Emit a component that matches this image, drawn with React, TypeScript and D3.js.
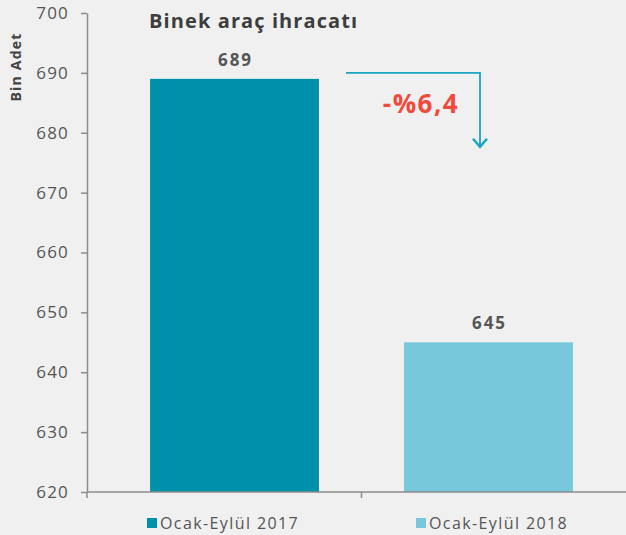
import * as d3 from 'd3'
import React, { useEffect, useRef } from 'react'

const categories = ['Ocak-Eylül 2017', 'Ocak-Eylül 2018']
const values = [689, 645]
const colors = ['#0091aa', '#76c8da']
const yTicks = [620, 630, 640, 650, 660, 670, 680, 690, 700]
const title = 'Binek araç ihracatı'
const changeLabel = '-%6,4'

const W = 626
const H = 535
const FONT = "'Open Sans', 'Noto Sans', sans-serif"

export default function App() {
  const svgRef = useRef<SVGSVGElement | null>(null)

  useEffect(() => {
    const svg = d3.select(svgRef.current)
    svg.selectAll('*').remove()

    svg.append('rect').attr('width', W).attr('height', H).attr('fill', '#f0f0f0')

    const y = d3.scaleLinear().domain([620, 700]).range([492, 13])
    const x = d3.scaleBand<string>().domain(categories).range([107.5, 615.5]).paddingInner(0.335).paddingOuter(0.1675)

    // y axis
    const yAxis = svg.append('g').attr('transform', 'translate(87,0)')
    yAxis.call(d3.axisLeft(y).tickValues(yTicks).tickSize(6).tickSizeOuter(0).tickPadding(12).tickFormat(d3.format('d')))
    yAxis.select('.domain').attr('stroke', '#8c8c8c').attr('stroke-width', 1.5)
    yAxis.selectAll('.tick line').attr('stroke', '#8c8c8c').attr('stroke-width', 1.5)
    yAxis.selectAll('.tick text').attr('fill', '#555').attr('font-size', 17).attr('font-family', FONT)
      .attr('letter-spacing', 1.2)

    // bars
    svg.selectAll('rect.bar')
      .data(values)
      .enter()
      .append('rect')
      .attr('class', 'bar')
      .attr('x', (_, i) => x(categories[i])!)
      .attr('width', x.bandwidth())
      .attr('y', (d) => y(d))
      .attr('height', (d) => y(620) - y(d))
      .attr('fill', (_, i) => colors[i])

    // x axis
    svg.append('line').attr('x1', 87).attr('x2', W).attr('y1', y(620)).attr('y2', y(620))
      .attr('stroke', '#8c8c8c').attr('stroke-width', 1.5)
    const step = x.step()
    const boundaries = [87, x(categories[1])! - (step - x.bandwidth()) / 2]
    svg.selectAll('line.xt')
      .data(boundaries)
      .enter()
      .append('line')
      .attr('x1', (d) => d).attr('x2', (d) => d)
      .attr('y1', y(620)).attr('y2', y(620) + 6)
      .attr('stroke', '#8c8c8c').attr('stroke-width', 1.5)

    // value labels
    svg.selectAll('text.val')
      .data(values)
      .enter()
      .append('text')
      .attr('x', (_, i) => x(categories[i])! + x.bandwidth() / 2 + 1)
      .attr('y', (d) => y(d) - 13)
      .attr('text-anchor', 'middle')
      .attr('font-family', FONT)
      .attr('font-weight', 'bold')
      .attr('font-size', 17)
      .attr('letter-spacing', 2)
      .attr('fill', '#555')
      .text((d) => d)

    // y label
    svg.append('text')
      .attr('transform', 'translate(21,67) rotate(-90)')
      .attr('text-anchor', 'middle')
      .attr('font-family', FONT)
      .attr('font-weight', 'bold')
      .attr('font-size', 14)
      .attr('letter-spacing', 1.2)
      .attr('fill', '#444')
      .text('Bin Adet')

    // title
    svg.append('text')
      .attr('x', 149).attr('y', 28)
      .attr('font-family', FONT)
      .attr('font-weight', 'bold')
      .attr('font-size', 20)
      .attr('letter-spacing', 1.1)
      .attr('fill', '#3d3d3d')
      .text(title)

    // change arrow
    const ax = 480
    svg.append('path')
      .attr('d', `M346,${y(690)}H${ax}V${y(679) + 7}`)
      .attr('fill', 'none').attr('stroke', '#1aa5c0').attr('stroke-width', 1.8)
    svg.append('path')
      .attr('d', `M${ax - 7},${y(679)}L${ax},${y(679) + 8}L${ax + 7},${y(679)}`)
      .attr('fill', 'none').attr('stroke', '#1aa5c0').attr('stroke-width', 2.5)

    svg.append('text')
      .attr('x', 421).attr('y', 113)
      .attr('text-anchor', 'middle')
      .attr('font-family', FONT)
      .attr('font-weight', 'bold')
      .attr('font-size', 26)
      .attr('letter-spacing', 1.5)
      .attr('fill', '#f04a3c')
      .text(changeLabel)

    // legend
    const legendX = [147, 416]
    const leg = svg.selectAll('g.leg')
      .data(categories)
      .enter()
      .append('g')
      .attr('class', 'leg')
      .attr('transform', (_, i) => `translate(${legendX[i]},523)`)
    leg.append('rect').attr('x', 0).attr('y', -5).attr('width', 10).attr('height', 10)
      .attr('fill', (_, i) => colors[i])
    leg.append('text').attr('x', 13).attr('y', 6)
      .attr('font-family', FONT)
      .attr('font-size', 16)
      .attr('letter-spacing', 1.4)
      .attr('fill', '#555')
      .text((d) => d)
  }, [])

  return (
    <svg ref={svgRef} width={W} height={H} style={{ display: 'block', position: 'absolute', left: 0, top: 0 }}></svg>
  )
}
